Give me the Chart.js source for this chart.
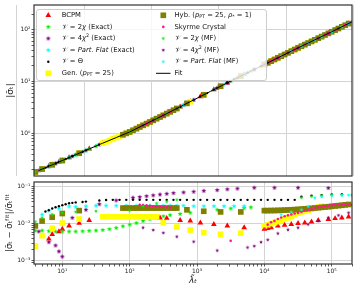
<!DOCTYPE html>
<html>
<head>
<meta charset="utf-8">
<script src="https://cdn.jsdelivr.net/npm/chart.js@4.4.1/dist/chart.umd.min.js"></script>
<style>
  body { margin: 0; background: #fff; }
  #box { position: relative; width: 358px; height: 292px; }
  canvas { position: absolute; left: 0; }
</style>
</head>
<body>
<div id="box">
  <canvas id="topChart" width="358" height="180" style="top:0"></canvas>
  <canvas id="botChart" width="358" height="114" style="top:178px"></canvas>
</div>
<script>
// ---- data: lambda, |sigma| (top), relative deviation (bottom) ----
const bcpmLam = [6.31, 7.08, 8.91, 10.0, 12.6, 17.8, 25.1, 39.8, 56.2, 79.4, 112, 141, 178, 224, 282, 355, 562, 794, 1122, 1778, 2818, 5012, 10000, 11220, 12590, 15850, 19950, 25120, 31620, 39810, 50120, 63100, 89130, 112200, 141300, 177800];
const bcpmSig = [0.234, 0.250, 0.283, 0.302, 0.344, 0.417, 0.506, 0.652, 0.785, 0.946, 1.153, 1.337, 1.549, 1.795, 2.080, 2.415, 3.273, 4.111, 5.164, 6.998, 9.48, 13.74, 21.38, 23.01, 24.77, 28.71, 33.27, 38.55, 44.67, 51.52, 59.43, 68.55, 84.92, 98.1, 113.5, 131.2];
const bcpmDev = [0.0039, 0.0052, 0.0062, 0.0072, 0.0088, 0.0104, 0.0124, 0.0151, 0.0149, 0.0149, 0.015, 0.0151, 0.015, 0.0148, 0.0146, 0.0142, 0.0124, 0.012, 0.0107, 0.0097, 0.0088, 0.0079, 0.0072, 0.0075, 0.0079, 0.0088, 0.0093, 0.0097, 0.0103, 0.0107, 0.0114, 0.0124, 0.0132, 0.014, 0.0146, 0.0155];

const chi2ExLam = [3.98, 5.01, 6.31, 7.94, 10.0, 12.6, 15.8, 20.0, 25.1, 31.6, 39.8, 50.1, 63.1, 79.4, 100, 126, 158, 200, 251, 316, 398, 562, 794, 1259, 1995, 3162, 5012, 6310];
const chi2ExSig = [0.182, 0.207, 0.234, 0.266, 0.302, 0.344, 0.391, 0.445, 0.506, 0.575, 0.652, 0.738, 0.836, 0.946, 1.072, 1.242, 1.439, 1.667, 1.932, 2.239, 2.606, 3.273, 4.111, 5.572, 7.551, 10.23, 13.74, 15.92];
const chi2ExDev = [0.0066, 0.0066, 0.0064, 0.0062, 0.0062, 0.0062, 0.0062, 0.0063, 0.0065, 0.0066, 0.0068, 0.0072, 0.0078, 0.0086, 0.0095, 0.0105, 0.0119, 0.0135, 0.015, 0.0161, 0.0172, 0.0185, 0.02, 0.022, 0.024, 0.026, 0.027, 0.028];

const chi4ExLam = [4.47, 6.31, 7.94, 8.91, 10.0, 14.1, 22.4, 35.5, 63.1, 112, 141, 178, 224, 282, 355, 447, 631, 891, 1259, 1995, 2818, 3981, 7079, 14130, 31620, 89130];
const chi4ExSig = [0.194, 0.234, 0.266, 0.283, 0.302, 0.366, 0.474, 0.612, 0.836, 1.153, 1.337, 1.549, 1.795, 2.080, 2.415, 2.812, 3.532, 4.436, 5.572, 7.551, 9.48, 11.86, 17.14, 26.67, 44.67, 84.92];
const chi4ExDev = [0.0062, 0.0032, 0.0026, 0.0018, 0.0013, 0.0146, 0.024, 0.034, 0.043, 0.051, 0.053, 0.056, 0.059, 0.062, 0.065, 0.068, 0.071, 0.074, 0.078, 0.082, 0.086, 0.09, 0.095, 0.095, 0.095, 0.093];

const flatExLam = [5.01, 6.31, 8.91, 12.6, 15.8, 22.4, 31.6, 44.7, 63.1, 89.1, 126, 158, 200, 251, 316, 398, 501, 631, 891, 1259, 1778, 2512, 3548, 5012];
const flatExSig = [0.207, 0.234, 0.283, 0.344, 0.391, 0.474, 0.575, 0.693, 0.836, 1.007, 1.242, 1.439, 1.667, 1.932, 2.239, 2.606, 3.034, 3.532, 4.436, 5.572, 6.998, 8.79, 11.02, 13.74];
const flatExDev = [0.0178, 0.0228, 0.0257, 0.0297, 0.029, 0.030, 0.031, 0.031, 0.031, 0.031, 0.031, 0.031, 0.031, 0.031, 0.031, 0.031, 0.031, 0.031, 0.030, 0.030, 0.030, 0.030, 0.030, 0.030];

const thetaLam = [5.62, 6.31, 7.08, 7.94, 8.91, 10.0, 11.2, 12.6, 14.1, 15.8, 20.0, 22.4, 35.5, 44.7, 56.2, 70.8, 89.1, 112, 141, 178, 224, 282, 355, 447, 562, 708, 891, 1122, 1413, 1778, 2239, 2818, 3548, 4467, 5623, 7079, 8913, 11220, 14130, 17780, 22390, 28180, 35480, 50120, 70790, 100000, 141300];
const thetaSig = [0.220, 0.234, 0.250, 0.266, 0.283, 0.302, 0.322, 0.344, 0.366, 0.391, 0.445, 0.474, 0.612, 0.693, 0.785, 0.889, 1.007, 1.153, 1.337, 1.549, 1.795, 2.080, 2.415, 2.812, 3.273, 3.811, 4.436, 5.164, 6.012, 6.998, 8.147, 9.48, 11.02, 12.76, 14.79, 17.14, 19.86, 23.01, 26.67, 30.90, 35.81, 41.50, 47.97, 59.43, 73.62, 91.20, 113.5];
const thetaDev = [0.0215, 0.0235, 0.026, 0.028, 0.030, 0.032, 0.034, 0.036, 0.037, 0.038, 0.039, 0.040, 0.043, 0.044, 0.0446, 0.0446, 0.0446, 0.0446, 0.0446, 0.0446, 0.0446, 0.0446, 0.0446, 0.0446, 0.0446, 0.0446, 0.0446, 0.0446, 0.0446, 0.0446, 0.0446, 0.0446, 0.0446, 0.0446, 0.0446, 0.0446, 0.0446, 0.0446, 0.0446, 0.0446, 0.0446, 0.0446, 0.054, 0.058, 0.060, 0.062, 0.063];

const genLam = [3.98, 5.01, 7.08, 10.0, 17.8, 39.8, 44.7, 50.1, 56.2, 63.1, 70.8, 79.4, 89.1, 100, 112, 126, 141, 158, 178, 200, 224, 251, 316, 501, 794, 1259, 2239, 4467, 10000, 11220, 12590, 14130, 15850, 17780, 19950, 22390, 25120, 28180, 31620, 35480, 39810, 44670, 50120, 56230, 63100, 70790];
const genSig = [0.182, 0.207, 0.250, 0.302, 0.417, 0.652, 0.693, 0.738, 0.785, 0.836, 0.889, 0.946, 1.007, 1.072, 1.153, 1.242, 1.337, 1.439, 1.549, 1.667, 1.795, 1.932, 2.239, 3.034, 4.111, 5.572, 8.147, 12.76, 21.38, 23.01, 24.77, 26.67, 28.71, 30.90, 33.27, 35.81, 38.55, 41.50, 44.67, 47.97, 51.52, 55.34, 59.43, 63.83, 68.55, 73.62];
const genDev = [0.0025, 0.0048, 0.0076, 0.0105, 0.0135, 0.0155, 0.0155, 0.0155, 0.0155, 0.0155, 0.0155, 0.0155, 0.0155, 0.0155, 0.0155, 0.0155, 0.0155, 0.0155, 0.0155, 0.0155, 0.0155, 0.0155, 0.0107, 0.0082, 0.0068, 0.0058, 0.0052, 0.0056, 0.0088, 0.0095, 0.0102, 0.0107, 0.0115, 0.0124, 0.0135, 0.0146, 0.016, 0.0179, 0.0195, 0.021, 0.0219, 0.0235, 0.0251, 0.027, 0.0285, 0.0297];

const hybLam = [3.98, 5.01, 7.08, 10.0, 17.8, 79.4, 89.1, 100, 112, 126, 141, 158, 178, 200, 224, 251, 282, 316, 355, 398, 447, 501, 708, 1259, 2239, 4467, 10000, 11220, 12590, 14130, 15850, 17780, 19950, 22390, 25120, 28180, 31620, 35480, 39810, 44670, 50120, 56230, 63100, 70790, 79430, 89130, 100000, 112200, 125900, 141300, 158500, 177800];
const hybSig = [0.182, 0.207, 0.250, 0.302, 0.417, 0.946, 1.007, 1.072, 1.153, 1.242, 1.337, 1.439, 1.549, 1.667, 1.795, 1.932, 2.080, 2.239, 2.415, 2.606, 2.812, 3.034, 3.811, 5.572, 8.147, 12.76, 21.38, 23.01, 24.77, 26.67, 28.71, 30.90, 33.27, 35.81, 38.55, 41.50, 44.67, 47.97, 51.52, 55.34, 59.43, 63.83, 68.55, 73.62, 79.07, 84.92, 91.20, 98.1, 105.4, 113.5, 122.2, 131.2];
const hybDev = [0.0088, 0.0119, 0.0151, 0.019, 0.0228, 0.0267, 0.0267, 0.0267, 0.0267, 0.0267, 0.0267, 0.0267, 0.0267, 0.0267, 0.0267, 0.0267, 0.0267, 0.0267, 0.0267, 0.0267, 0.0267, 0.0267, 0.024, 0.0219, 0.021, 0.021, 0.0228, 0.0228, 0.0229, 0.023, 0.0231, 0.0233, 0.0235, 0.0237, 0.024, 0.0243, 0.0246, 0.025, 0.0254, 0.0258, 0.0263, 0.0268, 0.0273, 0.0279, 0.0285, 0.0291, 0.0297, 0.0304, 0.0311, 0.0318, 0.0326, 0.0334];

const skyrmeLam = [141, 158, 178, 200, 224, 251, 282, 316, 355, 398, 3162, 10000, 11220, 12590, 14130, 15850, 17780, 19950, 22390, 25120, 28180, 31620, 35480, 39810, 44670, 50120, 56230, 63100, 70790, 79430, 89130, 100000, 112200, 125900, 141300, 158500, 177800, 199500];
const skyrmeSig = [1.337, 1.439, 1.549, 1.667, 1.795, 1.932, 2.080, 2.239, 2.415, 2.606, 10.23, 21.38, 23.01, 24.77, 26.67, 28.71, 30.90, 33.27, 35.81, 38.55, 41.50, 44.67, 47.97, 51.52, 55.34, 59.43, 63.83, 68.55, 73.62, 79.07, 84.92, 91.20, 98.1, 105.4, 113.5, 122.2, 131.2, 141.3];
const skyrmeDev = [0.033, 0.032, 0.0315, 0.031, 0.030, 0.0295, 0.029, 0.0285, 0.028, 0.0275, 0.0035, 0.0075, 0.0095, 0.011, 0.012, 0.0135, 0.0148, 0.016, 0.017, 0.018, 0.019, 0.0198, 0.021, 0.023, 0.024, 0.025, 0.027, 0.028, 0.029, 0.030, 0.031, 0.032, 0.0325, 0.033, 0.033, 0.033, 0.033, 0.033];

const chi2MfLam = [3.98, 5.01, 7.08, 10.0, 15.8, 31.6, 100, 158, 251, 355, 501, 35480, 50120, 70790, 100000, 141300, 199500];
const chi2MfSig = [0.182, 0.207, 0.250, 0.302, 0.391, 0.575, 1.072, 1.439, 1.932, 2.415, 3.034, 47.97, 59.43, 73.62, 91.20, 113.5, 141.3];
const chi2MfDev = [0.0114, 0.0146, 0.018, 0.020, 0.021, 0.022, 0.023, 0.030, 0.036, 0.040, 0.045, 0.051, 0.055, 0.058, 0.060, 0.060, 0.060];

const chi4MfLam = [158, 224, 316, 501, 891, 1995, 5623, 7079, 8913, 11220, 15850, 22390, 31620, 44670, 63100, 89130, 125900, 177800];
const chi4MfSig = [1.439, 1.795, 2.239, 3.034, 4.436, 7.551, 14.79, 17.14, 19.86, 23.01, 28.71, 35.81, 44.67, 55.34, 68.55, 84.92, 105.4, 131.2];
const chi4MfDev = [0.0079, 0.0068, 0.0057, 0.0045, 0.0033, 0.0019, 0.0023, 0.0025, 0.0032, 0.0037, 0.0055, 0.0069, 0.0079, 0.0097, 0.0119, 0.0146, 0.017, 0.02];

const flatMfLam = [17780, 25120, 35480, 44670, 56230, 70790, 100000, 141300, 177800];
const flatMfSig = [30.90, 38.55, 47.97, 55.34, 63.83, 73.62, 91.20, 113.5, 131.2];
const flatMfDev = [0.0178, 0.021, 0.024, 0.0297, 0.051, 0.054, 0.058, 0.06, 0.06];

const fitLam = [4.47, 6.31, 10, 15.8, 25.1, 39.8, 63.1, 100, 158, 251, 398, 631, 1000, 1585, 2512, 3981, 6310, 10000, 15850, 25120, 39810, 63100, 100000, 158500, 199500];
const fitSig = [0.194, 0.234, 0.302, 0.391, 0.506, 0.652, 0.836, 1.072, 1.439, 1.932, 2.606, 3.532, 4.786, 6.486, 8.79, 11.86, 15.92, 21.38, 28.71, 38.55, 51.52, 68.55, 91.20, 122.2, 141.3];

// axis ranges
const xRange = [3.8, 2.0e5];
const topYRange = [0.152, 299];
const botYRange = [8.2e-4, 0.1355];
const topGridX = [2.12, 21.2, 212, 2120, 21200, 212000];

// ---- styling ----
Chart.defaults.font.family = '"DejaVu Sans", sans-serif';
Chart.defaults.color = '#222';

function starIcon(color, r) {
  const c = document.createElement('canvas');
  const s = Math.ceil(r * 2 + 2);
  c.width = s; c.height = s;
  const g = c.getContext('2d');
  g.beginPath();
  for (let k = 0; k < 10; k++) {
    const rad = k % 2 ? r * 0.45 : r;
    const a = -Math.PI / 2 + k * Math.PI / 5;
    g.lineTo(s / 2 + rad * Math.cos(a), s / 2 + rad * Math.sin(a));
  }
  g.closePath();
  g.fillStyle = color;
  g.fill();
  return c;
}

const V = {t: '\u{1D4B1}'};
const series = [
  {lab: [{t: 'BCPM'}], color: '#ff0000', marker: 'triangle', r: 3.3, lam: bcpmLam, sig: bcpmSig, dev: bcpmDev},
  {lab: [V, {t: ' = 2'}, {t: 'χ', i: 1}, {t: ' (Exact)'}], color: '#00ee00', marker: 'star', r: 2.6, lam: chi2ExLam, sig: chi2ExSig, dev: chi2ExDev},
  {lab: [V, {t: ' = 4'}, {t: 'χ', i: 1}, {t: '2', sup: 1}, {t: ' (Exact)'}], color: '#800080', marker: 'star', r: 2.6, lam: chi4ExLam, sig: chi4ExSig, dev: chi4ExDev},
  {lab: [V, {t: ' = '}, {t: 'Part. Flat', i: 1}, {t: ' (Exact)'}], color: '#00ffff', marker: 'star', r: 2.6, lam: flatExLam, sig: flatExSig, dev: flatExDev},
  {lab: [V, {t: ' = Θ'}], color: '#000000', marker: 'circle', r: 1.2, lam: thetaLam, sig: thetaSig, dev: thetaDev},
  {lab: [{t: 'Gen. ('}, {t: 'p', i: 1}, {t: 'PT', sub: 1}, {t: ' = 25)'}], color: '#ffff00', marker: 'rect', r: 4, lam: genLam, sig: genSig, dev: genDev},
  {lab: [{t: 'Hyb. ('}, {t: 'p', i: 1}, {t: 'PT', sub: 1}, {t: ' = 25, '}, {t: 'ρ', i: 1}, {t: '*', sub: 1}, {t: ' = 1)'}], color: '#808000', marker: 'rect', r: 4, lam: hybLam, sig: hybSig, dev: hybDev},
  {lab: [{t: 'Skyrme Crystal'}], color: '#ff1493', marker: 'circle', r: 1.3, lam: skyrmeLam, sig: skyrmeSig, dev: skyrmeDev},
  {lab: [V, {t: ' = 2'}, {t: 'χ', i: 1}, {t: ' (MF)'}], color: '#00ee00', marker: 'star', r: 2, lam: chi2MfLam, sig: chi2MfSig, dev: chi2MfDev},
  {lab: [V, {t: ' = 4'}, {t: 'χ', i: 1}, {t: '2', sup: 1}, {t: ' (MF)'}], color: '#800080', marker: 'star', r: 2, lam: chi4MfLam, sig: chi4MfSig, dev: chi4MfDev},
  {lab: [V, {t: ' = '}, {t: 'Part. Flat', i: 1}, {t: ' (MF)'}], color: '#00ffff', marker: 'star', r: 2, lam: flatMfLam, sig: flatMfSig, dev: flatMfDev}
];
series.forEach(s => { s.style = s.marker === 'star' ? starIcon(s.color, s.r) : s.marker; });

function makeSets(field) {
  return series.map((s, i) => ({
    data: s.lam.map((x, k) => ({x: x, y: s[field][k]})),
    pointStyle: s.style,
    pointRadius: s.r,
    backgroundColor: s.color,
    borderColor: s.color,
    borderWidth: 0,
    showLine: false,
    order: 20 - i
  }));
}

const SUP = {'-': '⁻', '0': '⁰', '1': '¹', '2': '²', '3': '³', '4': '⁴', '5': '⁵'};
function isPow10(v) { const l = Math.log10(v); return Math.abs(l - Math.round(l)) < 1e-6; }
function logTicks(min, max) {
  const out = [];
  for (let e = Math.floor(Math.log10(min)); e <= Math.ceil(Math.log10(max)); e++) {
    for (let m = 1; m <= 9; m++) {
      const v = m * Math.pow(10, e);
      if (v >= min && v <= max) out.push({value: v});
    }
  }
  return out;
}
function powLabel(v) {
  if (!isPow10(v)) return '';
  return '10' + String(Math.round(Math.log10(v))).split('').map(c => SUP[c]).join('');
}

const gridCol = '#d4d4d4';
function logAxis(range, extra) {
  return Object.assign({
    type: 'logarithmic', min: range[0], max: range[1],
    afterBuildTicks: sc => { sc.ticks = logTicks(range[0], range[1]); },
    border: {display: false},
    grid: {
      color: c => (c.tick && isPow10(c.tick.value)) ? gridCol : 'rgba(0,0,0,0)',
      lineWidth: 1, tickLength: 2.5, tickWidth: 0.8, tickColor: '#333'
    },
    ticks: {autoSkip: false, maxRotation: 0, padding: 1, font: {size: 6}, callback: v => powLabel(v)}
  }, extra || {});
}

function fixSize(prop, val) {
  return sc => { sc[prop] = val; sc.paddingTop = 0; sc.paddingBottom = 0; sc.paddingLeft = 0; sc.paddingRight = 0; };
}

function drawRich(ctx, segs, x, y, size) {
  let cx = x;
  segs.forEach(s => {
    const small = s.sub || s.sup;
    const fs = small ? size * 0.7 : size;
    ctx.font = (s.i ? 'italic ' : '') + fs + 'px "DejaVu Sans"';
    const dy = s.sub ? size * 0.28 : (s.sup ? -size * 0.38 : 0);
    ctx.fillText(s.t, cx, y + dy);
    cx += ctx.measureText(s.t).width;
  });
}

const framePlugin = {
  id: 'frame',
  afterDraw(chart) {
    const a = chart.chartArea, ctx = chart.ctx;
    ctx.save();
    ctx.strokeStyle = '#333';
    ctx.lineWidth = 1.2;
    ctx.strokeRect(a.left, a.top, a.right - a.left, a.bottom - a.top);
    ctx.restore();
  }
};

const legendPlugin = {
  id: 'boxLegend',
  afterDatasetsDraw(chart) {
    const ctx = chart.ctx;
    ctx.save();
    ctx.beginPath();
    ctx.roundRect(36.5, 9.5, 230, 71, 2.5);
    ctx.fillStyle = 'rgba(255,255,255,0.8)';
    ctx.fill();
    ctx.strokeStyle = '#cccccc';
    ctx.lineWidth = 1;
    ctx.stroke();
    ctx.textBaseline = 'middle';
    ctx.fillStyle = '#111';
    const rows = 6;
    series.concat([{lab: [{t: 'Fit'}], fit: true}]).forEach((s, i) => {
      const col = Math.floor(i / rows), row = i % rows;
      const mx = col ? 163.3 : 48.3, tx = col ? 174.5 : 61.7;
      const y = 15.3 + row * 11.6;
      if (s.fit) {
        ctx.strokeStyle = '#000'; ctx.lineWidth = 1;
        ctx.beginPath(); ctx.moveTo(156, y); ctx.lineTo(170.5, y); ctx.stroke();
      } else {
        ctx.fillStyle = s.color; ctx.strokeStyle = s.color;
        Chart.helpers.drawPoint(ctx, {pointStyle: s.style, radius: s.r, borderWidth: 0, rotation: 0}, mx, y);
      }
      ctx.fillStyle = '#111';
      drawRich(ctx, s.lab, tx, y, 6.8);
    });
    ctx.restore();
  }
};

const topSets = makeSets('sig');
topSets.push({
  data: fitLam.map((x, k) => ({x: x, y: fitSig[k]})),
  showLine: true, borderColor: '#000', borderWidth: 1, pointRadius: 0, order: 0
});

new Chart(document.getElementById('topChart'), {
  type: 'scatter',
  data: {datasets: topSets},
  options: {
    responsive: false, animation: false, devicePixelRatio: 1,
    layout: {padding: {left: 0, right: 6, top: 5, bottom: 0}},
    plugins: {legend: {display: false}, tooltip: {enabled: false}},
    scales: {
      x: logAxis(xRange, {
        afterBuildTicks: sc => { sc.ticks = topGridX.map(v => ({value: v})); },
        grid: {color: gridCol, lineWidth: 1, drawTicks: false},
        ticks: {display: false},
        afterFit: fixSize('height', 2)
      }),
      y: logAxis(topYRange, {
        afterFit: fixSize('width', 34),
        title: {display: true, text: '|σ̄ₜ|', font: {size: 9}, padding: {top: 5, bottom: 5}}
      })
    }
  },
  plugins: [legendPlugin, framePlugin]
});

new Chart(document.getElementById('botChart'), {
  type: 'scatter',
  data: {datasets: makeSets('dev')},
  options: {
    responsive: false, animation: false, devicePixelRatio: 1,
    layout: {padding: {left: 0, right: 6, top: 2, bottom: 0}},
    plugins: {legend: {display: false}, tooltip: {enabled: false}},
    scales: {
      x: logAxis(xRange, {
        afterFit: fixSize('height', 28),
        title: {display: true, text: 'λ̃ₜ', font: {size: 9, style: 'italic'}, padding: {top: 6, bottom: 6}}
      }),
      y: logAxis(botYRange, {
        afterFit: fixSize('width', 34),
        title: {display: true, text: '|σ̄ₜ − σ̄ₜᶠⁱᵗ|/σ̄ₜᶠⁱᵗ', font: {size: 8.5}, padding: {top: 5, bottom: 5}}
      })
    }
  },
  plugins: [framePlugin]
});
</script>
</body>
</html>
